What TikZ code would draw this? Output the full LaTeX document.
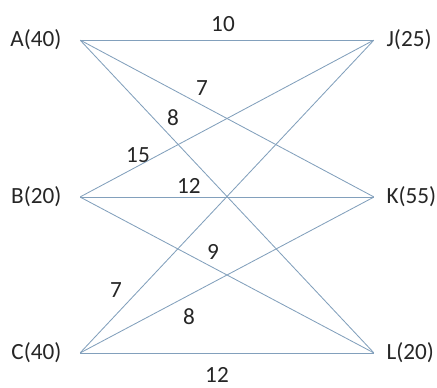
\documentclass[tikz,border=0pt]{standalone}
\usepackage{fontspec}
\setmainfont{Carlito}
\usetikzlibrary{positioning}
\definecolor{edgeblue}{RGB}{130,160,188}
\tikzset{
  endpt/.style={inner sep=0pt, minimum size=0pt},
  plabel/.style={inner sep=0pt, font=\fontsize{16.5}{19}\selectfont, text=black!85},
  costlbl/.style={inner sep=0pt, font=\fontsize{16.5}{19}\selectfont, text=black!85},
  link/.style={draw=edgeblue, line width=0.6pt}
}
\begin{document}
\begin{tikzpicture}
  \useasboundingbox (0,0) rectangle (10.925,9.675);
  % sources on the left, sinks on the right
  \node[endpt] (A) at (2,8.675) {};
  \node[endpt] (B) at (2,4.75) {};
  \node[endpt] (C) at (2,0.85) {};
  \node[endpt] (J) at (9.35,8.675) {};
  \node[endpt] (K) at (9.35,4.75) {};
  \node[endpt] (L) at (9.35,0.85) {};
  \node[plabel, left=0.45 of A] (Aname) {A(40)};
  \node[plabel, left=0.45 of B] (Bname) {B(20)};
  \node[plabel, left=0.45 of C] (Cname) {C(40)};
  \node[plabel, right=0.3 of J] (Jname) {J(25)};
  \node[plabel, right=0.3 of K] (Kname) {K(55)};
  \node[plabel, right=0.3 of L] (Lname) {L(20)};
  \foreach \s in {A,B,C} {
    \foreach \t in {J,K,L} {
      \draw[link] (\s) -- (\t);
    }
  }
  % costs
  \node[costlbl] (cAJ) at (5.575,9.075) {10};
  \node[costlbl] (cAK) at (5.05,7.475) {7};
  \node[costlbl] (cAL) at (4.325,6.725) {8};
  \node[costlbl] (cBJ) at (3.45,5.8) {15};
  \node[costlbl] (cBK) at (4.72,5.03) {12};
  \node[costlbl] (cBL) at (5.325,3.375) {9};
  \node[costlbl] (cCJ) at (2.9,2.425) {7};
  \node[costlbl] (cCK) at (4.725,1.75) {8};
  \node[costlbl] (cCL) at (5.425,0.3) {12};
\end{tikzpicture}
\end{document}
